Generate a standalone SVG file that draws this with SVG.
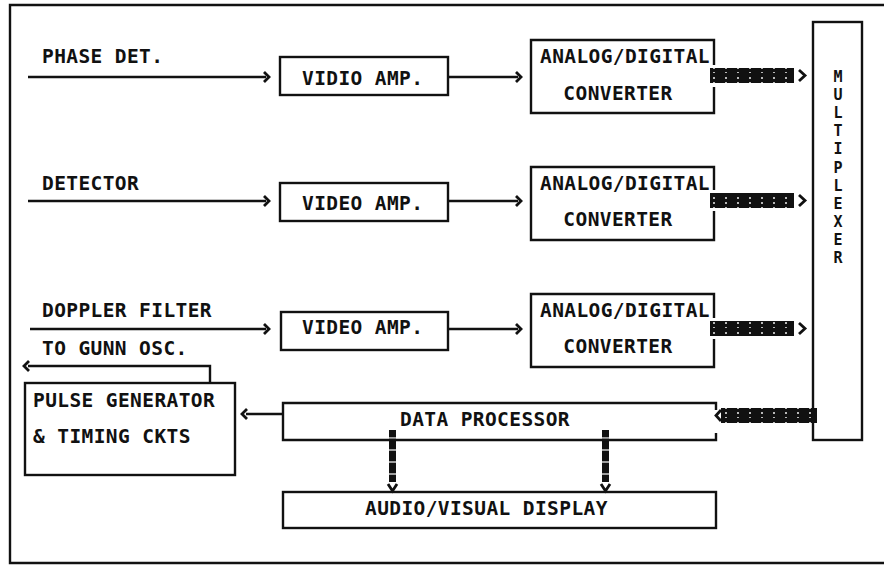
<svg xmlns="http://www.w3.org/2000/svg" width="884" height="566" viewBox="0 0 884 566">
  <style>
    .t { font-family: "DejaVu Sans Mono", "Liberation Mono", monospace; font-weight: bold; font-size: 19.5px; letter-spacing: 0.4px; fill: #111; }
    .tv { font-family: "DejaVu Sans Mono", "Liberation Mono", monospace; font-weight: bold; font-size: 15px; fill: #111; }
    .box { fill: none; stroke: #111; stroke-width: 2.4; }
    .ln { fill: none; stroke: #111; stroke-width: 2.4; }
    .chev { fill: none; stroke: #111; stroke-width: 2.8; stroke-linejoin: miter; }
    .busdots { stroke: #fff; stroke-width: 1.4; stroke-dasharray: 2 3; }
  </style>
  <defs>
    <!-- horizontal multi-wire bus: black bar with dotted separators -->
    <pattern id="hbus" width="12" height="15" patternUnits="userSpaceOnUse">
      <rect width="12" height="15" fill="#111"/>
      <line x1="6" y1="2" x2="6" y2="13" class="busdots"/>
    </pattern>
    <!-- vertical bus: stacked black blocks -->
    <pattern id="vbus" width="7" height="12" patternUnits="userSpaceOnUse">
      <rect width="7" height="12" fill="#111"/>
      <line x1="0" y1="6" x2="7" y2="6" stroke="#fff" stroke-width="1.2"/>
    </pattern>
  </defs>

  <!-- outer frame (open on the right) -->
  <path class="ln" d="M884,5 H10 V563 H884"/>

  <!-- connectors -->
  <g id="connectors">
    <!-- row 1 -->
    <line class="ln" x1="28" y1="77" x2="266" y2="77"/>
    <polyline class="chev" points="264,72 269,77 264,82"/>
    <line class="ln" x1="448" y1="77" x2="518" y2="77"/>
    <polyline class="chev" points="516,72 521,77 516,82"/>
    <rect x="710" y="68" width="84" height="15" fill="url(#hbus)"/>
    <polyline class="chev" points="799,70 805,75.5 799,81"/>
    <!-- row 2 -->
    <line class="ln" x1="28" y1="201" x2="266" y2="201"/>
    <polyline class="chev" points="264,196 269,201 264,206"/>
    <line class="ln" x1="448" y1="201" x2="518" y2="201"/>
    <polyline class="chev" points="516,196 521,201 516,206"/>
    <rect x="710" y="193" width="84" height="15" fill="url(#hbus)"/>
    <polyline class="chev" points="799,195 805,200.5 799,206"/>
    <!-- row 3 -->
    <line class="ln" x1="30" y1="329" x2="266" y2="329"/>
    <polyline class="chev" points="264,324 269,329 264,334"/>
    <line class="ln" x1="448" y1="329" x2="518" y2="329"/>
    <polyline class="chev" points="516,324 521,329 516,334"/>
    <rect x="710" y="321" width="84" height="15" fill="url(#hbus)"/>
    <polyline class="chev" points="799,323 805,328.5 799,334"/>
    <!-- pulse generator to Gunn oscillator -->
    <path class="ln" d="M210,383 V366 H28"/>
    <polyline class="chev" points="29,361 24,366 29,371"/>
    <!-- data processor to pulse generator -->
    <line class="ln" x1="246" y1="414" x2="283" y2="414"/>
    <polyline class="chev" points="247,409 242,414 247,419"/>
    <!-- multiplexer to data processor -->
    <rect x="721" y="408" width="96" height="15" fill="url(#hbus)"/>
    <polyline class="chev" points="721,410 716,415.5 721,421"/>
    <!-- data processor to display -->
    <rect x="389" y="430" width="7" height="52" fill="url(#vbus)"/>
    <polyline class="chev" points="388,484 392.5,491 397,484"/>
    <rect x="602" y="430" width="7" height="52" fill="url(#vbus)"/>
    <polyline class="chev" points="601,484 605.5,491 610,484"/>
  </g>

  <!-- input labels -->
  <g id="inputs">
    <text class="t" x="42" y="63">PHASE DET.</text>
    <text class="t" x="42" y="190">DETECTOR</text>
    <text class="t" x="42" y="317">DOPPLER FILTER</text>
    <text class="t" x="42" y="355">TO GUNN OSC.</text>
  </g>

  <g id="vamp1">
    <rect class="box" x="280" y="57" width="168" height="38"/>
    <text class="t" x="302" y="85">VIDIO AMP.</text>
  </g>
  <g id="vamp2">
    <rect class="box" x="280" y="183" width="168" height="38"/>
    <text class="t" x="302" y="210">VIDEO AMP.</text>
  </g>
  <g id="vamp3">
    <rect class="box" x="281" y="312" width="167" height="38"/>
    <text class="t" x="302" y="334">VIDEO AMP.</text>
  </g>

  <g id="adc1">
    <path class="box" d="M714,65 V40 H531 V113 H714 V87"/>
    <text class="t" x="540" y="63">ANALOG/DIGITAL</text>
    <text class="t" x="618" y="100" text-anchor="middle">CONVERTER</text>
  </g>
  <g id="adc2">
    <path class="box" d="M714,190 V167 H531 V240 H714 V211"/>
    <text class="t" x="540" y="190">ANALOG/DIGITAL</text>
    <text class="t" x="618" y="226" text-anchor="middle">CONVERTER</text>
  </g>
  <g id="adc3">
    <path class="box" d="M714,318 V294 H531 V367 H714 V339"/>
    <text class="t" x="540" y="317">ANALOG/DIGITAL</text>
    <text class="t" x="618" y="353" text-anchor="middle">CONVERTER</text>
  </g>

  <g id="multiplexer">
    <rect class="box" x="813" y="22" width="49" height="418"/>
    <text class="tv" x="838" text-anchor="middle">
      <tspan x="838" y="82">M</tspan><tspan x="838" y="100">U</tspan><tspan x="838" y="118">L</tspan><tspan x="838" y="136">T</tspan><tspan x="838" y="154">I</tspan><tspan x="838" y="173">P</tspan><tspan x="838" y="191">L</tspan><tspan x="838" y="209">E</tspan><tspan x="838" y="227">X</tspan><tspan x="838" y="245">E</tspan><tspan x="838" y="263">R</tspan>
    </text>
  </g>

  <g id="pulsegen">
    <rect class="box" x="25" y="383" width="210" height="92"/>
    <text class="t" x="33" y="407">PULSE GENERATOR</text>
    <text class="t" x="33" y="443">&amp; TIMING CKTS</text>
  </g>

  <g id="dataproc">
    <path class="box" d="M716,410 V403 H283 V440 H716 V433"/>
    <text class="t" x="400" y="426">DATA PROCESSOR</text>
  </g>

  <g id="display">
    <rect class="box" x="283" y="492" width="433" height="36"/>
    <text class="t" x="365" y="515">AUDIO/VISUAL DISPLAY</text>
  </g>
</svg>
